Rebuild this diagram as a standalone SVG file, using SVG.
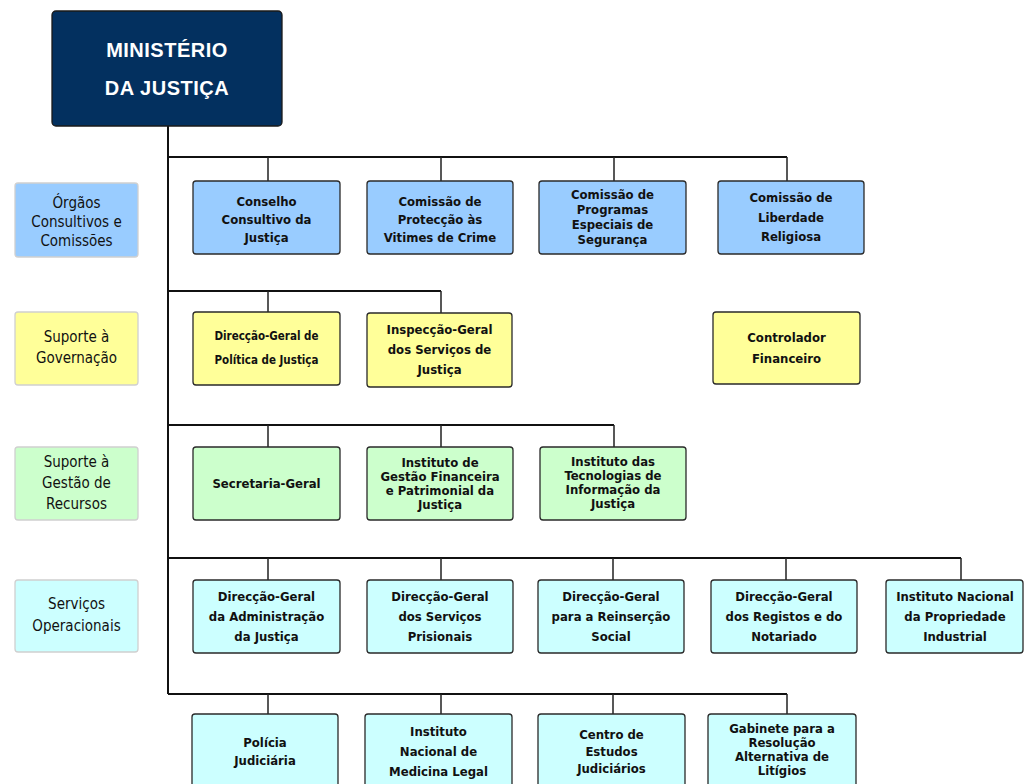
<svg xmlns="http://www.w3.org/2000/svg" width="1025" height="784" viewBox="0 0 1025 784">
<style>
.box{stroke:#2a2a2a;stroke-width:1.3}
.cat{stroke:#d0d0d0;stroke-width:1.3}
.b{fill:#99ccff}.y{fill:#ffff99}.g{fill:#ccffcc}.c{fill:#ccffff}
text{font-family:"DejaVu Sans Condensed","DejaVu Sans",sans-serif;fill:#111;text-anchor:middle}
.n{font-size:13px;font-weight:bold}
.s{font-size:11.5px;font-weight:bold}
.k{font-size:15px}
.t{font-family:"Liberation Sans",Arial,sans-serif;font-size:20px;font-weight:bold;fill:#fff;letter-spacing:0.5px}
.ln{stroke:#111;stroke-width:2;fill:none}
.dr{stroke:#222;stroke-width:1.5;fill:none}
</style>
<g id="connectors">
<path class="ln" d="M168 126V694"/>
<path class="ln" d="M168 157H787M168 291H441M168 425H614M168 558H961M168 694H787"/>
<path class="dr" d="M268 157V181M441 157V181M614 157V181M787 157V181"/>
<path class="dr" d="M268 291V312M441 291V313"/>
<path class="dr" d="M268 425V447M441 425V447M614 425V447"/>
<path class="dr" d="M268 558V580M441 558V580M613 558V580M786 558V580M961 558V580"/>
<path class="dr" d="M268 694V714M441 694V714M613 694V714M787 694V714"/>
</g>
<g id="ministerio">
<rect x="52" y="11" width="230" height="115" rx="4" fill="#03305f" stroke="#1a1a1a" stroke-width="1.3"/>
<text class="t" x="167" y="57">MINISTÉRIO</text>
<text class="t" x="167" y="95">DA JUSTIÇA</text>
</g>
<g id="cat-orgaos">
<rect class="cat b" x="15" y="183" width="123" height="74" rx="3"/>
<text class="k" x="76.5" y="208">Órgãos</text>
<text class="k" x="76.5" y="227">Consultivos e</text>
<text class="k" x="76.5" y="246">Comissões</text>
</g>
<g id="cat-governacao">
<rect class="cat y" x="15" y="312" width="123" height="73" rx="3"/>
<text class="k" x="76.5" y="342">Suporte à</text>
<text class="k" x="76.5" y="363">Governação</text>
</g>
<g id="cat-recursos">
<rect class="cat g" x="15" y="447" width="123" height="73" rx="3"/>
<text class="k" x="76.5" y="467">Suporte à</text>
<text class="k" x="76.5" y="488">Gestão de</text>
<text class="k" x="76.5" y="509">Recursos</text>
</g>
<g id="cat-operacionais">
<rect class="cat c" x="15" y="580" width="123" height="72" rx="3"/>
<text class="k" x="76.5" y="609">Serviços</text>
<text class="k" x="76.5" y="631">Operacionais</text>
</g>
<g id="conselho">
<rect class="box b" x="193" y="181" width="147" height="73" rx="3"/>
<text class="n" x="266.5" y="206">Conselho</text>
<text class="n" x="266.5" y="224">Consultivo da</text>
<text class="n" x="266.5" y="242">Justiça</text>
</g>
<g id="protecao">
<rect class="box b" x="367" y="181" width="146" height="73" rx="3"/>
<text class="n" x="440" y="206">Comissão de</text>
<text class="n" x="440" y="224">Protecção às</text>
<text class="n" x="440" y="242">Vitimes de Crime</text>
</g>
<g id="programas">
<rect class="box b" x="539" y="181" width="147" height="73" rx="3"/>
<text class="n" x="612.5" y="199">Comissão de</text>
<text class="n" x="612.5" y="214">Programas</text>
<text class="n" x="612.5" y="229">Especiais de</text>
<text class="n" x="612.5" y="244">Segurança</text>
</g>
<g id="liberdade">
<rect class="box b" x="718" y="181" width="146" height="73" rx="3"/>
<text class="n" x="791" y="202">Comissão de</text>
<text class="n" x="791" y="222">Liberdade</text>
<text class="n" x="791" y="241">Religiosa</text>
</g>
<g id="dg-politica">
<rect class="box y" x="193" y="312" width="147" height="73" rx="3"/>
<text class="s" x="266.5" y="340">Direcção-Geral de</text>
<text class="s" x="266.5" y="364">Política de Justiça</text>
</g>
<g id="inspeccao">
<rect class="box y" x="367" y="313" width="145" height="74" rx="3"/>
<text class="n" x="439.5" y="334">Inspecção-Geral</text>
<text class="n" x="439.5" y="354">dos Serviços de</text>
<text class="n" x="439.5" y="374">Justiça</text>
</g>
<g id="controlador">
<rect class="box y" x="713" y="312" width="147" height="72" rx="3"/>
<text class="n" x="786.5" y="342">Controlador</text>
<text class="n" x="786.5" y="363">Financeiro</text>
</g>
<g id="secretaria">
<rect class="box g" x="193" y="447" width="147" height="73" rx="3"/>
<text class="n" x="266.5" y="488">Secretaria-Geral</text>
</g>
<g id="igfej">
<rect class="box g" x="367" y="447" width="146" height="73" rx="3"/>
<text class="n" x="440" y="467">Instituto de</text>
<text class="n" x="440" y="481">Gestão Financeira</text>
<text class="n" x="440" y="495">e Patrimonial da</text>
<text class="n" x="440" y="509">Justiça</text>
</g>
<g id="itij">
<rect class="box g" x="540" y="447" width="146" height="73" rx="3"/>
<text class="n" x="613" y="466">Instituto das</text>
<text class="n" x="613" y="480">Tecnologias de</text>
<text class="n" x="613" y="494">Informação da</text>
<text class="n" x="613" y="508">Justiça</text>
</g>
<g id="dg-administracao">
<rect class="box c" x="193" y="580" width="147" height="73" rx="3"/>
<text class="n" x="266.5" y="601">Direcção-Geral</text>
<text class="n" x="266.5" y="621">da Administração</text>
<text class="n" x="266.5" y="641">da Justiça</text>
</g>
<g id="dg-prisionais">
<rect class="box c" x="367" y="580" width="146" height="73" rx="3"/>
<text class="n" x="440" y="601">Direcção-Geral</text>
<text class="n" x="440" y="621">dos Serviços</text>
<text class="n" x="440" y="641">Prisionais</text>
</g>
<g id="dg-reinsercao">
<rect class="box c" x="538" y="580" width="146" height="73" rx="3"/>
<text class="n" x="611" y="601">Direcção-Geral</text>
<text class="n" x="611" y="621">para a Reinserção</text>
<text class="n" x="611" y="641">Social</text>
</g>
<g id="dg-registos">
<rect class="box c" x="711" y="580" width="146" height="73" rx="3"/>
<text class="n" x="784" y="601">Direcção-Geral</text>
<text class="n" x="784" y="621">dos Registos e do</text>
<text class="n" x="784" y="641">Notariado</text>
</g>
<g id="inpi">
<rect class="box c" x="886" y="580" width="137" height="73" rx="3"/>
<text class="n" x="955" y="601">Instituto Nacional</text>
<text class="n" x="955" y="621">da Propriedade</text>
<text class="n" x="955" y="641">Industrial</text>
</g>
<g id="policia">
<rect class="box c" x="192" y="714" width="146" height="80" rx="3"/>
<text class="n" x="265" y="747">Polícia</text>
<text class="n" x="265" y="765">Judiciária</text>
</g>
<g id="inml">
<rect class="box c" x="365" y="714" width="147" height="80" rx="3"/>
<text class="n" x="438.5" y="736">Instituto</text>
<text class="n" x="438.5" y="756">Nacional de</text>
<text class="n" x="438.5" y="776">Medicina Legal</text>
</g>
<g id="cej">
<rect class="box c" x="538" y="714" width="147" height="80" rx="3"/>
<text class="n" x="611.5" y="739">Centro de</text>
<text class="n" x="611.5" y="756">Estudos</text>
<text class="n" x="611.5" y="773">Judiciários</text>
</g>
<g id="gral">
<rect class="box c" x="708" y="714" width="148" height="80" rx="3"/>
<text class="n" x="782" y="733">Gabinete para a</text>
<text class="n" x="782" y="747">Resolução</text>
<text class="n" x="782" y="761">Alternativa de</text>
<text class="n" x="782" y="775">Litígios</text>
</g>
</svg>
